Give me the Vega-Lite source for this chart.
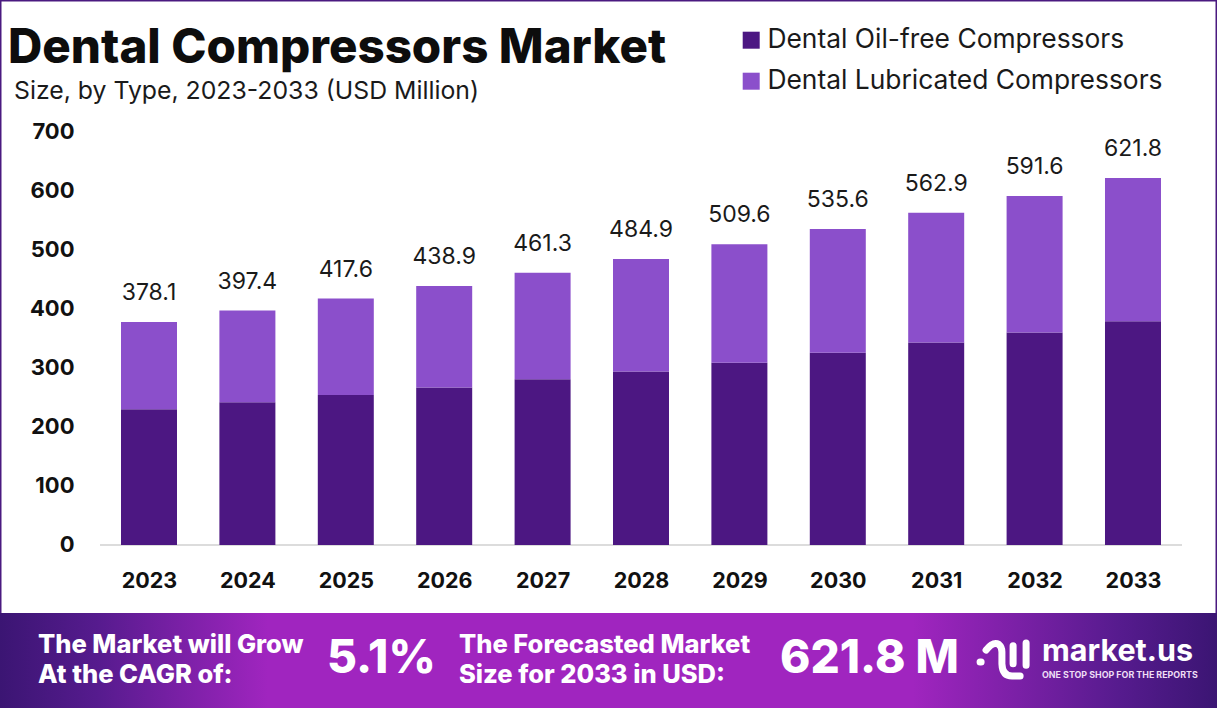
{
"$schema":"https://vega.github.io/schema/vega-lite/v6.json",
"width":1217,"height":708,"autosize":{"type":"none"},"padding":0,"background":"#ffffff",
"config":{"view":{"stroke":"#4a1a80","strokeWidth":3},"font":"Inter"},
"title":{"text":"Dental Compressors Market","anchor":"start","frame":"group","dx":8,"dy":72,"offset":0,"font":"Inter","fontSize":47.5,"fontWeight":800,"color":"#0d0d0d"},
"layer":[
{"data":{"values":[{"band":"footer"}]},"mark":{"type":"rect","fill":{"gradient":"linear","x1":0,"x2":1,"y1":0,"y2":0,"stops":[{"offset":0,"color":"#3b1573"},{"offset":0.08,"color":"#561b8e"},{"offset":0.22,"color":"#a025bf"},{"offset":0.75,"color":"#a025bf"},{"offset":0.92,"color":"#561b8e"},{"offset":1,"color":"#3b1573"}]}},
 "encoding":{"x":{"datum":2021.4858,"type":"quantitative"},"x2":{"datum":2033.8537},"y":{"datum":-115.3,"type":"quantitative"},"y2":{"datum":-276.3}}},
{"data":{"values":[{"line":"baseline"}]},"mark":{"type":"rule","stroke":"#dcdcdc","strokeWidth":2},
 "encoding":{"x":{"datum":2022.502,"type":"quantitative"},"x2":{"datum":2033.498},"y":{"datum":0,"type":"quantitative"}}},
{"data":{"values":[
{"year":2023,"type":"Dental Oil-free Compressors","value":230},{"year":2023,"type":"Dental Lubricated Compressors","value":148.1},
{"year":2024,"type":"Dental Oil-free Compressors","value":242},{"year":2024,"type":"Dental Lubricated Compressors","value":155.4},
{"year":2025,"type":"Dental Oil-free Compressors","value":254},{"year":2025,"type":"Dental Lubricated Compressors","value":163.6},
{"year":2026,"type":"Dental Oil-free Compressors","value":267},{"year":2026,"type":"Dental Lubricated Compressors","value":171.9},
{"year":2027,"type":"Dental Oil-free Compressors","value":281},{"year":2027,"type":"Dental Lubricated Compressors","value":180.3},
{"year":2028,"type":"Dental Oil-free Compressors","value":294},{"year":2028,"type":"Dental Lubricated Compressors","value":190.9},
{"year":2029,"type":"Dental Oil-free Compressors","value":309},{"year":2029,"type":"Dental Lubricated Compressors","value":200.6},
{"year":2030,"type":"Dental Oil-free Compressors","value":326},{"year":2030,"type":"Dental Lubricated Compressors","value":209.6},
{"year":2031,"type":"Dental Oil-free Compressors","value":343},{"year":2031,"type":"Dental Lubricated Compressors","value":219.9},
{"year":2032,"type":"Dental Oil-free Compressors","value":360},{"year":2032,"type":"Dental Lubricated Compressors","value":231.6},
{"year":2033,"type":"Dental Oil-free Compressors","value":379},{"year":2033,"type":"Dental Lubricated Compressors","value":242.8}
]},
 "mark":{"type":"bar","orient":"vertical","width":56},
 "encoding":{
  "x":{"field":"year","type":"quantitative","scale":{"domain":[2021.4858,2033.8537],"nice":false,"zero":false,"padding":0},
   "axis":{"values":[2023,2024,2025,2026,2027,2028,2029,2030,2031,2032,2033],"format":"d","title":null,"grid":false,"domain":false,"ticks":false,"offset":-138,"labelPadding":0,"labelFontSize":21.5,"labelFontWeight":700,"labelColor":"#111111","labelFont":"Inter","labelBaseline":"top"}},
  "y":{"field":"value","type":"quantitative","stack":"zero","scale":{"domain":[-276.3,923.7],"nice":false,"zero":false},
   "axis":{"values":[0,100,200,300,400,500,600,700],"title":null,"grid":false,"domain":false,"ticks":false,"offset":-78,"labelPadding":4,"labelFontSize":22,"labelFontWeight":700,"labelColor":"#111111","labelFont":"Inter"}},
  "color":{"field":"type","type":"nominal","scale":{"domain":["Dental Oil-free Compressors","Dental Lubricated Compressors"],"range":["#4c1782","#8b4fcb"]},
   "legend":{"title":null,"orient":"none","legendX":738,"legendY":27,"symbolType":"square","symbolSize":289,"symbolStrokeWidth":0,"labelFontSize":26.4,"labelFont":"Inter","labelColor":"#1a1a1a","labelOffset":3,"rowPadding":14,"labelLimit":500}}
 }},
{"data":{"values":[{"year":2023,"total":378.1},{"year":2024,"total":397.4},{"year":2025,"total":417.6},{"year":2026,"total":438.9},{"year":2027,"total":461.3},{"year":2028,"total":484.9},{"year":2029,"total":509.6},{"year":2030,"total":535.6},{"year":2031,"total":562.9},{"year":2032,"total":591.6},{"year":2033,"total":621.8}]},
 "mark":{"type":"text","fontSize":23,"font":"Inter","color":"#1a1a1a","dy":-29,"baseline":"middle"},
 "encoding":{"x":{"field":"year","type":"quantitative"},"y":{"field":"total","type":"quantitative"},"text":{"field":"total","type":"quantitative","format":".1f"}}},
{"data":{"values":[{"label":"Size, by Type, 2023-2033 (USD Million)"}]},"mark":{"type":"text","align":"left","baseline":"middle","fontSize":24.8,"fontWeight":400,"font":"Inter","color":"#1a1a1a"},
 "encoding":{"x":{"datum":2021.628,"type":"quantitative"},"y":{"datum":768,"type":"quantitative"},"text":{"field":"label"}}},
{"data":{"values":[{"label":"The Market will Grow"}]},"mark":{"type":"text","align":"left","baseline":"middle","fontSize":25.5,"fontWeight":800,"font":"Inter","color":"#ffffff"},
 "encoding":{"x":{"datum":2021.872,"type":"quantitative"},"y":{"datum":-169.5,"type":"quantitative"},"text":{"field":"label"}}},
{"data":{"values":[{"label":"At the CAGR of:"}]},"mark":{"type":"text","align":"left","baseline":"middle","fontSize":25.5,"fontWeight":800,"font":"Inter","color":"#ffffff"},
 "encoding":{"x":{"datum":2021.872,"type":"quantitative"},"y":{"datum":-220.3,"type":"quantitative"},"text":{"field":"label"}}},
{"data":{"values":[{"label":"5.1%"}]},"mark":{"type":"text","align":"left","baseline":"middle","fontSize":46,"fontWeight":800,"font":"Inter","color":"#ffffff"},
 "encoding":{"x":{"datum":2024.81,"type":"quantitative"},"y":{"datum":-193.2,"type":"quantitative"},"text":{"field":"label"}}},
{"data":{"values":[{"label":"The Forecasted Market"}]},"mark":{"type":"text","align":"left","baseline":"middle","fontSize":25.5,"fontWeight":800,"font":"Inter","color":"#ffffff"},
 "encoding":{"x":{"datum":2026.15,"type":"quantitative"},"y":{"datum":-169.5,"type":"quantitative"},"text":{"field":"label"}}},
{"data":{"values":[{"label":"Size for 2033 in USD:"}]},"mark":{"type":"text","align":"left","baseline":"middle","fontSize":25.5,"fontWeight":800,"font":"Inter","color":"#ffffff"},
 "encoding":{"x":{"datum":2026.15,"type":"quantitative"},"y":{"datum":-220.3,"type":"quantitative"},"text":{"field":"label"}}},
{"data":{"values":[{"label":"621.8 M"}]},"mark":{"type":"text","align":"left","baseline":"middle","fontSize":46,"fontWeight":800,"font":"Inter","color":"#ffffff"},
 "encoding":{"x":{"datum":2029.413,"type":"quantitative"},"y":{"datum":-193.2,"type":"quantitative"},"text":{"field":"label"}}},
{"data":{"values":[{"label":"market.us"}]},"mark":{"type":"text","align":"left","baseline":"middle","fontSize":30.5,"fontWeight":700,"font":"Inter","color":"#ffffff"},
 "encoding":{"x":{"datum":2032.075,"type":"quantitative"},"y":{"datum":-181.4,"type":"quantitative"},"text":{"field":"label"}}},
{"data":{"values":[{"label":"ONE STOP SHOP FOR THE REPORTS"}]},"mark":{"type":"text","align":"left","baseline":"middle","fontSize":8.9,"fontWeight":700,"font":"Inter","color":"#eeddf5"},
 "encoding":{"x":{"datum":2032.075,"type":"quantitative"},"y":{"datum":-220.3,"type":"quantitative"},"text":{"field":"label"}}},
{"data":{"values":[{"logo":"market.us"}]},"mark":{"type":"point","filled":false,"stroke":"#ffffff","strokeWidth":7,"strokeCap":"round","strokeJoin":"round","opacity":1,"size":2704,"shape":"M-0.69,-0.38 Q-0.42,-0.72 -0.2,-0.6 Q-0.08,-0.5 -0.08,-0.31 L-0.08,0.15 Q-0.06,0.62 0.31,0.62 L0.62,0.62 M0.35,-0.55 L0.35,0.15 M0.85,-0.65 L0.85,0.2 M-0.92,0.08 L-0.88,0.08"},
 "encoding":{"x":{"datum":2031.689,"type":"quantitative"},"y":{"datum":-194.9,"type":"quantitative"}}}
]
}
